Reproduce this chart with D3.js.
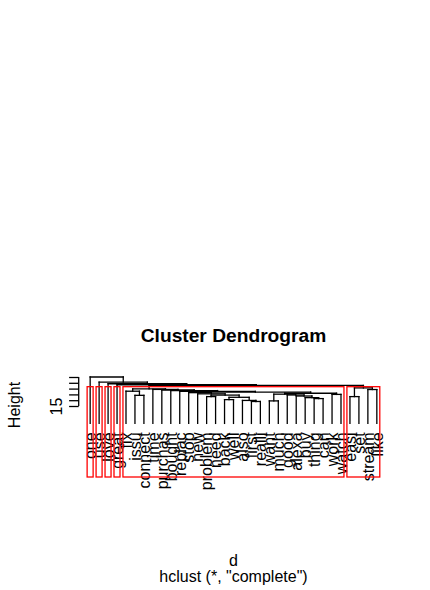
<!DOCTYPE html>
<html><head><meta charset="utf-8">
<script src="https://cdn.jsdelivr.net/npm/d3@7"></script>
<style>
body{margin:0;background:#fff}
svg{display:block}
text{font-family:"Liberation Sans",Arial,sans-serif;fill:#000}
</style>
</head><body>
<svg id="chart" width="430" height="590"></svg>
<script>
// ---- data ----
const leafLabels = ["one","use","love","great","fix","issu","connect","time","purchas","bought",
  "replac","stop","new","problem","need","back","well","also","first","realli","want","much",
  "good","alexa","buy","thing","can","work","watch","easi","set","stream","like"];
// merge pairs (leaf label or index of an earlier merge), R hclust style
const mergePairs = [
  ["first","realli"], ["want","much"], ["also",0], ["back","well"], ["thing","can"],
  ["buy",4], [3,2], ["problem","need"], ["easi","set"], ["alexa",5],
  ["issu","connect"], [7,6], ["good",9], ["work","watch"], [1,12],
  ["new",11], [14,13], ["stop",15], [17,16], ["replac",18],
  ["fix",10], ["bought",19], ["purchas",21], ["stream","like"], ["time",22],
  [20,24], [8,23], [25,26], ["great",27], ["love",28],
  ["use",29], ["one",30]
];
const mergeHeights = [18.9,19.4,19.8,20.5,21.4,22.2,22.5,23.1,23.1,23.6,
  24.2,24.4,24.5,25.0,25.2,25.5,26.0,26.5,27.0,27.6,
  27.75,28.3,28.8,29.2,29.3,29.8,30.6,32.7,33.3,34.2,35.6,40.0];
const yTicks = [15,20,25,30,35,40];
const yTickLabels = ["15","","","","",""];
const kClusters = 6;
const titleText = "Cluster Dendrogram";
const xLabel = "d";
const subLabel = "hclust (*, \"complete\")";
const yLabel = "Height";

// ---- build tree ----
const leafNodes = {};
leafLabels.forEach(l => leafNodes[l] = {name: l, h: 0});
const mergeNodes = mergePairs.map((p, i) => ({h: mergeHeights[i], raw: p}));
mergeNodes.forEach(m => {
  m.children = m.raw.map(c => typeof c === "number" ? mergeNodes[c] : leafNodes[c]);
});
const rootData = mergeNodes[mergeNodes.length - 1];
const root = d3.hierarchy(rootData, d => d.children);
const leaves = root.leaves();

// ---- scales ----
const n = leaves.length;
const xScale = d3.scaleLinear().domain([1 - 0.04 * (n - 1), n + 0.04 * (n - 1)]).range([78.7, 388.3]);
const yScale = d3.scaleLinear().domain([15, 40]).range([406, 377]);

leaves.forEach((l, i) => { l.idx = i + 1; l.x = xScale(i + 1); });
root.eachAfter(nd => { if (nd.children) nd.x = d3.mean(nd.children, c => c.x); });

const svg = d3.select("#chart");
const g = svg.append("g");

// ---- dendrogram segments ----
const segs = [];
root.each(nd => {
  if (!nd.children) return;
  const yh = yScale(nd.data.h);
  const [a, b] = nd.children;
  segs.push([a.x, yh, b.x, yh]);
  nd.children.forEach(c => segs.push([c.x, yh, c.x, yScale(c.data.h)]));
});
g.selectAll("line.seg").data(segs).join("line")
  .attr("class", "seg")
  .attr("x1", d => d[0]).attr("y1", d => d[1])
  .attr("x2", d => d[2]).attr("y2", d => d[3])
  .attr("stroke", "#000").attr("stroke-width", 1.3)
  .attr("stroke-linecap", "square");

// ---- leaf labels ----
g.selectAll("text.leaf").data(leaves).join("text")
  .attr("class", "leaf")
  .attr("transform", d => `translate(${d.x},${yScale(0) + 9}) rotate(-90)`)
  .attr("text-anchor", "end")
  .attr("dy", "0.36em")
  .style("font-size", "16px")
  .text(d => d.data.name);

// ---- rect.hclust clusters ----
const sortedH = mergeHeights.slice().sort((a, b) => b - a);
const cutTop = (sortedH[kClusters - 2] + sortedH[kClusters - 1]) / 2;
const clusters = [];
(function walk(nd) {
  if (nd.data.h >= cutTop && nd.children) nd.children.forEach(walk);
  else clusters.push(nd);
})(root);
clusters.sort((a, b) => a.leaves()[0].idx - b.leaves()[0].idx);
const plotBottom = 477;
g.selectAll("rect.cl").data(clusters).join("rect")
  .attr("class", "cl")
  .attr("x", d => xScale(d.leaves()[0].idx - 0.34))
  .attr("width", d => xScale(d.leaves()[d.leaves().length - 1].idx + 0.33) - xScale(d.leaves()[0].idx - 0.34))
  .attr("y", yScale(cutTop))
  .attr("height", d => plotBottom - yScale(cutTop))
  .attr("fill", "none").attr("stroke", "#ff0000").attr("stroke-width", 1.3);

// ---- y axis ----
const axisX = 78.7;
const ax = svg.append("g").attr("transform", `translate(${axisX},0)`)
  .call(d3.axisLeft(yScale).tickValues(yTicks).tickSize(9.6).tickSizeOuter(0)
    .tickFormat((d, i) => yTickLabels[i]));
ax.select(".domain").remove();
ax.append("line").attr("x1", 0).attr("x2", 0)
  .attr("y1", yScale(yTicks[0])).attr("y2", yScale(yTicks[yTicks.length - 1]))
  .attr("stroke", "#000").attr("stroke-width", 1.3);
ax.selectAll(".tick line").attr("stroke", "#000").attr("stroke-width", 1.3);
ax.selectAll(".tick text")
  .attr("transform", "rotate(-90)")
  .attr("x", 0).attr("y", -17).attr("dy", 0)
  .attr("text-anchor", "middle")
  .style("font-size", "16px").style("font-family", "Liberation Sans, Arial, sans-serif")
  .attr("fill", "#000");

// ---- titles ----
svg.append("text").attr("x", 233.5).attr("y", 341.5).attr("text-anchor", "middle")
  .style("font-size", "19.2px").style("font-weight", "bold").text(titleText);
svg.append("text").attr("x", 233.5).attr("y", 565.5).attr("text-anchor", "middle")
  .style("font-size", "16px").text(xLabel);
svg.append("text").attr("x", 233.5).attr("y", 582).attr("text-anchor", "middle")
  .style("font-size", "16px").text(subLabel);
svg.append("text").attr("transform", "translate(20,405) rotate(-90)").attr("text-anchor", "middle")
  .style("font-size", "16px").text(yLabel);
</script>
</body></html>
